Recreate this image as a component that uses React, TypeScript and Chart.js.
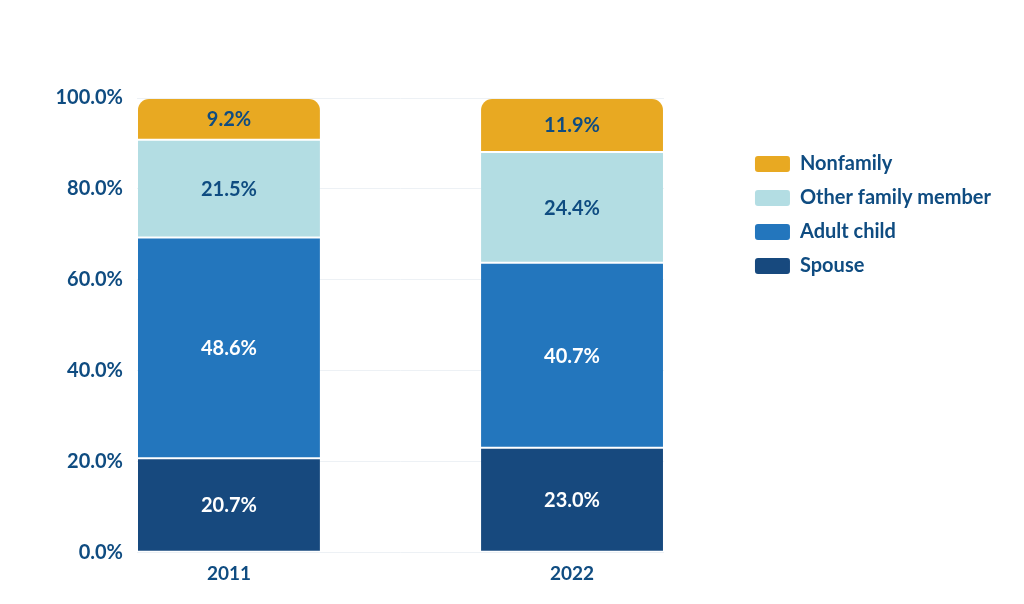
import React, { useEffect, useRef } from "react";
import { Chart, registerables } from "chart.js";

Chart.register(...registerables);

const years = ["2011", "2022"];
const spouse = [20.7, 23.0];
const adultChild = [48.6, 40.7];
const otherFamily = [21.5, 24.4];
const nonfamily = [9.2, 11.9];
const yTicks = [0, 20, 40, 60, 80, 100];

const FONT = "Lato, 'Noto Sans', sans-serif";
const TEXT = "#0f4c81";

const labelPlugin = {
  id: "barLabels",
  afterDatasetsDraw(chart: any) {
    const ctx = chart.ctx;
    ctx.save();
    ctx.font = `bold 20px ${FONT}`;
    ctx.textAlign = "center";
    ctx.textBaseline = "middle";
    chart.data.datasets.forEach((ds: any, di: number) => {
      const meta = chart.getDatasetMeta(di);
      meta.data.forEach((el: any, i: number) => {
        const p = el.getProps(["x", "y", "base"], true);
        const v = ds.data[i].y;
        ctx.fillStyle = ds.labelColor;
        ctx.fillText(v.toFixed(1) + "%", p.x, (p.y + p.base) / 2 + 1);
      });
    });
    ctx.restore();
  },
};

export default function App() {
  const ref = useRef<HTMLCanvasElement | null>(null);
  useEffect(() => {
    if (!ref.current) return;
    const toPts = (arr: number[]) => arr.map((v, i) => ({ x: i, y: v }));
    const mk = (label: string, arr: number[], color: string, labelColor: string, top = false) => ({
      label,
      data: toPts(arr),
      backgroundColor: color,
      borderColor: "rgba(255,255,255,0.1)",
      borderWidth: 1,
      borderSkipped: false,
      borderRadius: top ? { topLeft: 12, topRight: 12, bottomLeft: 0, bottomRight: 0 } : 0,
      labelColor,
      barPercentage: 0.536,
      categoryPercentage: 1,
    });
    const chart = new Chart(ref.current, {
      type: "bar",
      data: {
        datasets: [
          mk("Spouse", spouse, "#17497e", "#ffffff"),
          mk("Adult child", adultChild, "#2376bd", "#ffffff"),
          mk("Other family member", otherFamily, "#b3dde3", TEXT),
          mk("Nonfamily", nonfamily, "#e8a922", TEXT, true),
        ] as any,
      },
      options: {
        animation: false,
        responsive: true,
        maintainAspectRatio: false,
        layout: { padding: { top: 98, bottom: 9, left: 0, right: 23 } },
        plugins: {
          tooltip: { enabled: false },
          legend: {
            position: "right",
            align: "start",
            reverse: true,
            maxWidth: 400,
            title: { display: true, text: "", font: { size: 10 }, padding: { top: 30, bottom: 0 } },
            labels: {
              boxWidth: 35,
              boxHeight: 16,
              padding: 14,
              color: TEXT,
              font: { family: FONT, size: 20, weight: "bold" },
              generateLabels: (c: any) =>
                c.data.datasets.map((ds: any, i: number) => ({
                  text: ds.label,
                  fillStyle: ds.backgroundColor,
                  strokeStyle: ds.backgroundColor,
                  lineWidth: 0,
                  borderRadius: 3,
                  fontColor: TEXT,
                  datasetIndex: i,
                  hidden: false,
                })),
            },
          },
        },
        scales: {
          x: {
            type: "linear",
            min: -0.268,
            max: 1.268,
            offset: false,
            stacked: true,
            grid: { display: false, drawTicks: false, offset: false },
            border: { display: false },
            afterBuildTicks: (s: any) => {
              s.ticks = years.map((_, i) => ({ value: i }));
            },
            ticks: {
              padding: 10,
              color: TEXT,
              font: { family: FONT, size: 19, weight: "bold" },
              callback: (v: any) => years[v as number] ?? "",
            },
          },
          y: {
            stacked: true,
            min: 0,
            max: 100,
            afterBuildTicks: (s: any) => {
              s.ticks = yTicks.map((v) => ({ value: v }));
            },
            afterFit: (s: any) => {
              s.width = 137;
            },
            grid: { color: "#edf1f5", lineWidth: 1, drawTicks: false },
            border: { display: false },
            ticks: {
              padding: 14,
              color: TEXT,
              font: { family: FONT, size: 20, weight: "bold" },
              callback: (v: any) => Number(v).toFixed(1) + "%",
            },
          },
          y2: {
            position: "right",
            display: true,
            grid: { display: false, drawTicks: false },
            border: { display: false },
            ticks: { display: false },
            afterFit: (s: any) => {
              s.width = 77;
            },
          },
        },
      } as any,
      plugins: [labelPlugin],
    });
    return () => chart.destroy();
  }, []);
  return (
    <div style={{ position: "fixed", left: 0, top: 0, width: 1024, height: 604, background: "#fff" }}>
      <canvas ref={ref} />
    </div>
  );
}
